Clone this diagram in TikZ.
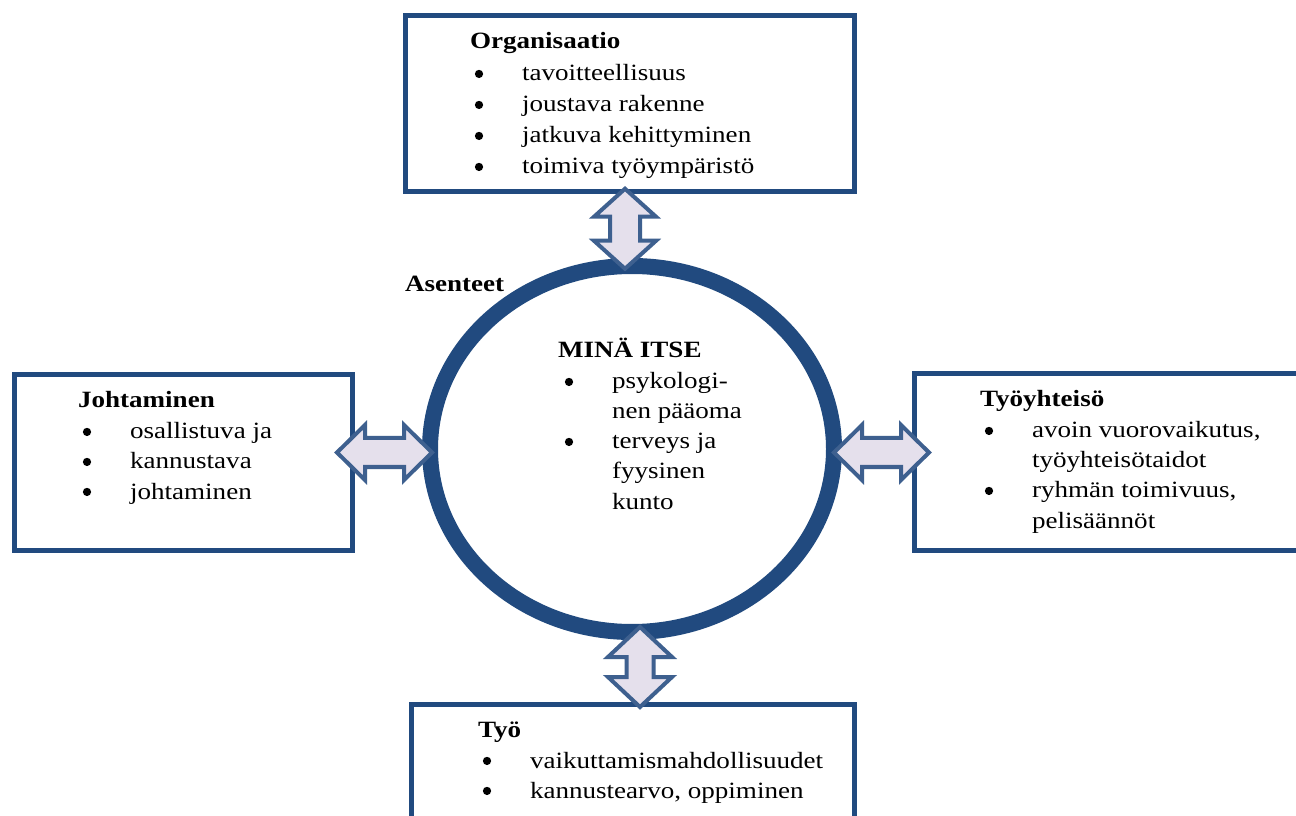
\documentclass[tikz,border=0pt]{standalone}
\usepackage{fontspec}
\setmainfont{Liberation Serif}[FakeStretch=1.16]
\usetikzlibrary{shapes.geometric,calc}

\definecolor{boxblue}{RGB}{33,74,127}
\definecolor{arrowblue}{RGB}{62,96,143}
\definecolor{arrowfill}{RGB}{229,224,236}

\tikzset{
  txt/.style={anchor=base west, inner sep=0pt, outer sep=0pt,
    font=\fontsize{17.5pt}{21pt}\selectfont},
  ttl/.style={txt, font=\fontsize{17.5pt}{21pt}\selectfont\bfseries},
  dot/.style={circle, fill=black, inner sep=0pt, outer sep=0pt, minimum size=6.2pt},
  panel/.style={draw=boxblue, line width=3.6pt, anchor=north west,
    inner sep=0pt, outer sep=0pt},
  twoway/.style={draw=arrowblue, fill=arrowfill, line width=3pt, line join=miter},
}

% bullet item: name, x, baseline, text
\newcommand\bulletline[4]{%
  \node[txt] (#1) at (#2,#3) {#4};
  \node[dot] (#1-dot) at ([xshift=-32.25pt, yshift=5.3pt]#1.base west) {};}

% double-headed block arrow: centre, angle, half length, head length,
% head half width, shaft half width
\newcommand\twoway[6]{%
  \path[twoway, shift={#1}, rotate=#2]
    (-#3,0) -- (-#3+#4,#5) -- (-#3+#4,#6) -- (#3-#4,#6) -- (#3-#4,#5)
    -- (#3,0) -- (#3-#4,-#5) -- (#3-#4,-#6) -- (-#3+#4,-#6) -- (-#3+#4,-#5)
    -- cycle;}

\begin{document}
\begin{tikzpicture}[x=0.75pt,y=-0.75pt]
\useasboundingbox (0,0) rectangle (1296,816);
\fill[white] (0,0) rectangle (1296,816);
\clip (0,0) rectangle (1296,816);

% surrounding boxes
\node[panel, minimum width=336.75pt, minimum height=132pt] (org) at (405.5,15.5) {};
\node[panel, minimum width=253.5pt, minimum height=132pt] (lead) at (14.5,374.5) {};
\node[panel, minimum width=304.1pt, minimum height=132.75pt] (comm) at (914.5,373.5) {};
\node[panel, minimum width=332.25pt, minimum height=101.6pt] (work) at (411.5,704.5) {};

% central ring
\node[ellipse, draw=boxblue, line width=12pt, minimum width=303pt,
  minimum height=274.5pt, inner sep=0pt, outer sep=0pt] (self) at (632,449) {};

% two-way arrows between the ring and the boxes
\twoway{($(org.south)!.5!(self.north)+(-6,0)$)}{90}{40}{28}{31}{15}
\twoway{($(lead.east)!.5!(self.west)+(-6.75,-3.25)$)}{0}{47.5}{28}{27.5}{14.5}
\twoway{($(self.east)!.5!(comm.west)+(7.25,-3)$)}{0}{47.5}{28}{27.5}{14.5}
\twoway{($(self.south)!.5!(work.north)+(7.5,-1.25)$)}{90}{40}{30}{32}{13.5}

% Organisaatio
\node[ttl] (org-t) at (470,49) {Organisaatio};
\bulletline{org-1}{522}{81}{tavoitteellisuus}
\bulletline{org-2}{522}{112}{joustava rakenne}
\bulletline{org-3}{522}{143}{jatkuva kehittyminen}
\bulletline{org-4}{522}{174}{toimiva työympäristö}

% Johtaminen
\node[ttl] (lead-t) at (78,408) {Johtaminen};
\bulletline{lead-1}{130}{439}{osallistuva ja}
\bulletline{lead-2}{130}{469}{kannustava}
\bulletline{lead-3}{130}{499}{johtaminen}

% Työyhteisö
\node[ttl] (comm-t) at (980,407) {Työyhteisö};
\bulletline{comm-1}{1032}{438}{avoin vuorovaikutus,}
\node[txt] (comm-1b) at (1032,468) {työyhteisötaidot};
\bulletline{comm-2}{1032}{498}{ryhmän toimivuus,}
\node[txt] (comm-2b) at (1032,528) {pelisäännöt};

% Työ
\node[ttl] (work-t) at (478,737) {Työ};
\bulletline{work-1}{530}{768}{vaikuttamismahdollisuudet}
\bulletline{work-2}{530}{798}{kannustearvo, oppiminen}

% Minä itse
\node[ttl] (att) at (405,292) {Asenteet};
\node[ttl] (self-t) at (558,358) {MINÄ ITSE};
\bulletline{self-1}{612}{389}{psykologi-}
\node[txt] (self-1b) at (612,419) {nen pääoma};
\bulletline{self-2}{612}{449}{terveys ja}
\node[txt] (self-2b) at (612,479) {fyysinen};
\node[txt] (self-2c) at (612,509) {kunto};
\end{tikzpicture}
\end{document}
